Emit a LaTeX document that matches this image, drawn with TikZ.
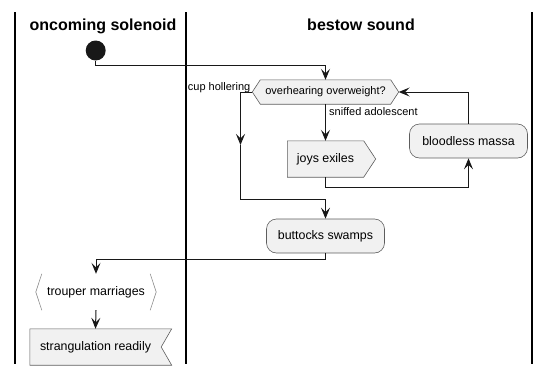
\documentclass[tikz,border=0pt]{standalone}
\usepackage{fontspec}
\setmainfont{Liberation Sans}
\usetikzlibrary{arrows.meta,calc,backgrounds}
\definecolor{ink}{HTML}{181818}
\definecolor{boxfill}{HTML}{F1F1F1}
\begin{document}
\begin{tikzpicture}[x=1pt,y=-1pt,
  lane/.style={line width=1.4pt, draw=black},
  title/.style={font=\fontsize{16}{19}\selectfont\bfseries, anchor=base, inner sep=0pt},
  txt/.style={font=\fontsize{11}{13}\selectfont, inner sep=0pt},
  acttxt/.style={font=\fontsize{12.4}{14}\selectfont, inner sep=0pt},
  wire/.style={draw=ink, line width=1pt},
  flow/.style={wire, -{Stealth[length=11pt,width=9pt,inset=4.5pt]}},
  shell/.style={draw=ink!70, fill=boxfill, line width=0.6pt},
  bracketline/.style={draw=ink!50, line width=0.6pt},
  action/.style={acttxt, shell, rounded corners=10pt, minimum width=118pt, minimum height=34pt},
]
\useasboundingbox (0,0) rectangle (549,375);

% lane titles
\node[title] (lane1) at (103,30) {oncoming solenoid};
\node[title] (lane2) at (361,30) {bestow sound};

% activity nodes
\node[circle, fill=ink, minimum size=20pt, inner sep=0pt] (start) at (95.7,50.5) {};
\node[txt, minimum width=130pt, minimum height=24pt] (dec) at (325.5,92) {overhearing overweight?};
\coordinate (decL) at ($(dec.west)+(-8,0)$);
\coordinate (decR) at ($(dec.east)+(8,0)$);
\node[txt, anchor=base east] (lblno) at (250.5,90) {cup hollering};
\node[txt, anchor=base west] (lblyes) at (329,115) {sniffed adolescent};
\node[acttxt, minimum width=76pt, minimum height=36pt] (joys) at (325.5,159) {joys exiles};
\node[action] (bm) at (468.5,141) {bloodless massa};
\coordinate (midA) at (240.5,145);
\coordinate (jn) at (325.5,199);
\node[action] (bs) at (325.5,236) {buttocks swamps};
\node[acttxt, minimum width=120pt, minimum height=36pt] (tm) at (96,292) {trouper marriages};
\node[acttxt, minimum width=131pt, minimum height=36pt] (sr) at (95.5,347) {strangulation readily};

\begin{scope}[on background layer]
  % swimlane separators
  \draw[lane] (15,12) -- (15,364);
  \draw[lane] (186,12) -- (186,364);
  \draw[lane] (532,12) -- (532,364);
  % decision hexagon
  \path[shell] (dec.north west) -- (dec.north east) -- (decR) -- (dec.south east)
    -- (dec.south west) -- (decL) -- cycle;
  % send signal
  \path[shell] (joys.north west) -- (joys.north east) -- ($(joys.east)+(12,0)$)
    -- (joys.south east) -- (joys.south west) -- cycle;
  % receive signal
  \path[shell] (sr.north west) -- ($(sr.north east)+(10.5,0)$) -- (sr.east)
    -- ($(sr.south east)+(10.5,0)$) -- (sr.south west) -- cycle;
  % angle brackets
  \draw[bracketline] ($(tm.north west)+(6,0)$) -- (tm.west) -- ($(tm.south west)+(6,0)$);
  \draw[bracketline] ($(tm.north east)+(-6,0)$) -- (tm.east) -- ($(tm.south east)+(-6,0)$);
\end{scope}

% connectors
\draw[flow] (start.south) -- ++(0,4.5) -| (dec.north);
\draw[flow] (decL) -| (midA);
\draw[flow] (midA) |- (jn) -- (bs.north);
\draw[flow] (dec.south) -- (joys.north);
\draw[flow] (joys.south) -- ++(0,10) -| (bm.south);
\draw[flow] (bm.north) |- (decR);
\draw[flow] (bs.south) -- ++(0,6) -| (tm.north);
\draw[flow] (tm.south) -- (sr.north);
\end{tikzpicture}
\end{document}
